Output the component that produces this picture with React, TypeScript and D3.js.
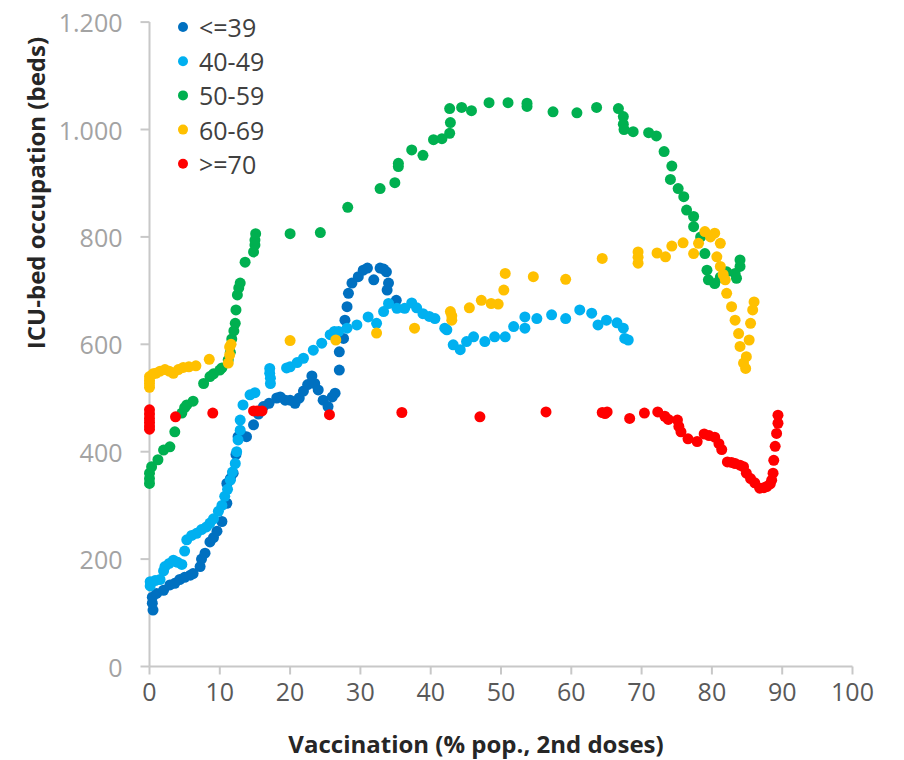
import React from "react";
import * as d3 from "d3";

const seriesNames = ["<=39", "40-49", "50-59", "60-69", ">=70"];
const seriesColors = ["#0070C0", "#00B0F0", "#00B050", "#FFC000", "#FF0000"];

const xTicks = [0, 10, 20, 30, 40, 50, 60, 70, 80, 90, 100];
const yTicks = [0, 200, 400, 600, 800, 1000, 1200];
const yTickLabels = ["0", "200", "400", "600", "800", "1.000", "1.200"];

const age39: [number, number][] = [[0.5,105],[0.4,118],[0.4,129],[1.0,136],[2.0,142],[2.9,152],[3.6,155],[4.3,162],[5.0,166],[5.8,170],[6.2,173],[7.2,186],[7.4,200],[7.9,211],[8.6,232],[9.1,240],[9.6,252],[10.3,270],[11.0,304],[11.0,341],[11.5,350],[11.9,360],[12.3,395],[12.6,428],[13.2,430],[13.8,428],[14.8,450],[15.5,470],[16.2,484],[17.0,490],[18.1,500],[18.6,502],[19.3,496],[20.0,496],[20.7,490],[21.3,500],[21.9,513],[22.5,525],[23.1,541],[23.5,527],[24.0,515],[24.7,496],[25.4,484],[26.0,502],[26.4,509],[27.0,552],[27.0,586],[27.6,611],[27.8,645],[28.1,670],[28.3,695],[28.8,714],[29.7,726],[30.4,738],[31.0,742],[31.9,720],[32.8,742],[33.3,740],[33.7,735],[34.0,714],[33.8,701],[35.1,682]];

const age40: [number, number][] = [[0.1,150],[0.1,158],[0.8,160],[1.5,162],[2.0,178],[2.2,186],[2.8,192],[3.4,198],[4.0,194],[4.6,190],[5.0,215],[5.3,236],[6.0,244],[6.7,248],[7.4,255],[8.1,260],[8.6,267],[9.1,275],[9.8,289],[10.3,300],[10.7,317],[11.1,330],[11.5,347],[11.8,362],[12.2,378],[12.4,400],[12.6,422],[12.9,440],[12.9,459],[13.3,487],[14.3,506],[15.0,510],[17.1,546],[17.1,555],[17.2,527],[17.2,537],[19.5,556],[20.0,558],[21.0,566],[21.9,574],[23.3,589],[24.5,602],[25.7,618],[26.3,624],[26.9,624],[28.1,630],[29.5,636],[31.1,651],[32.3,639],[33.3,661],[34.0,676],[35.2,667],[36.3,667],[37.3,677],[38.0,668],[38.9,657],[39.8,652],[40.6,648],[42.0,630],[42.3,627],[43.2,599],[44.2,590],[45.1,605],[46.1,614],[47.7,605],[49.1,614],[50.6,614],[51.8,633],[53.4,651],[53.4,630],[55.1,648],[57.2,655],[59.2,648],[61.2,664],[62.9,658],[63.8,636],[65.0,645],[66.5,640],[67.4,630],[67.6,611],[68.1,608]];

const age50: [number, number][] = [[0,341],[0,350],[0,360],[0.3,372],[1.2,385],[2.0,403],[2.9,409],[3.6,437],[4.6,472],[5.0,482],[5.3,487],[6.2,494],[7.7,527],[8.6,540],[9.1,545],[10.0,552],[10.3,556],[11.2,571],[11.5,585],[11.7,610],[12.0,625],[12.2,639],[12.3,664],[12.5,692],[12.7,705],[12.9,714],[13.6,753],[14.8,772],[15.0,785],[15.0,794],[15.1,806],[20.0,806],[24.3,808],[28.2,855],[32.8,890],[34.9,901],[35.4,931],[35.4,937],[37.3,962],[38.9,952],[40.4,981],[41.6,983],[42.7,993],[42.8,1013],[42.7,1039],[44.4,1041],[45.8,1035],[48.3,1050],[51.0,1050],[53.7,1043],[53.7,1049],[57.4,1033],[60.8,1031],[63.6,1041],[66.7,1039],[67.4,1024],[67.4,1010],[67.5,1000],[68.8,996],[71.0,994],[72.1,988],[73.2,959],[74.3,932],[74.1,907],[75.2,890],[76.0,875],[76.4,850],[77.4,838],[77.4,819],[78.4,800],[79.0,769],[79.3,738],[79.5,720],[80.4,713],[81.2,725],[82.1,735],[83.3,732],[83.5,723],[84.0,745],[84.0,757]];

const age60: [number, number][] = [[0,520],[0,527],[0,533],[0,540],[0.5,545],[0.9,546],[1.5,550],[2.2,553],[2.8,550],[3.4,546],[4.1,553],[4.8,557],[5.6,558],[6.6,560],[8.5,572],[11.2,565],[11.4,580],[11.4,595],[11.6,600],[20.0,607],[26.5,608],[32.3,621],[37.7,630],[42.8,661],[43.0,653],[43.0,645],[45.5,668],[47.2,682],[48.6,676],[49.6,675],[50.4,701],[50.6,732],[54.6,726],[59.2,721],[64.4,760],[69.5,772],[69.5,762],[69.5,751],[72.2,770],[73.4,763],[74.3,783],[75.9,789],[77.4,769],[78.1,788],[79.0,810],[79.8,800],[80.4,807],[81.2,788],[80.7,763],[81.2,745],[81.6,730],[81.9,720],[82.1,695],[82.8,670],[83.3,645],[83.8,620],[84.0,596],[84.5,565],[84.8,555],[84.9,577],[85.3,608],[85.5,639],[85.8,664],[86.0,679]];

const age70: [number, number][] = [[0,478],[0,470],[0,462],[0,455],[0,448],[0,442],[3.7,465],[9.0,472],[14.8,476],[15.4,476],[16.0,476],[25.6,469],[35.9,473],[47.0,465],[56.4,474],[64.4,473],[64.8,471],[65.1,474],[68.3,462],[70.4,472],[72.3,474],[73.3,466],[73.8,460],[75.1,459],[75.3,447],[75.6,437],[76.6,424],[77.9,419],[78.9,433],[79.6,430],[80.4,427],[81.0,415],[81.4,404],[82.2,381],[82.8,380],[83.3,378],[84.0,375],[84.5,372],[84.9,360],[85.5,350],[86.1,342],[86.8,332],[87.4,333],[87.8,335],[88.3,340],[88.5,347],[88.7,360],[88.8,384],[89.0,410],[89.2,434],[89.4,453],[89.4,468]];

const allSeries = [age39, age40, age50, age60, age70];

const FONT = "'Open Sans', 'Noto Sans', sans-serif";

export default function App() {
  const width = 904;
  const height = 760;
  const x = d3.scaleLinear().domain([0, 100]).range([149.5, 852.5]);
  const y = d3.scaleLinear().domain([0, 1200]).range([666.5, 22.1]);
  const axisColor = "#c8c8c8";

  return (
    <div style={{ position: "absolute", left: 0, top: 0 }}>
      <svg width={width} height={height} style={{ display: "block", background: "#fff" }}>
        {/* y axis */}
        <line x1={x(0)} x2={x(0)} y1={y(0)} y2={y(1200)} stroke={axisColor} strokeWidth={2} />
        {yTicks.map((t, i) => (
          <g key={"y" + t}>
            <line x1={x(0) - 9} x2={x(0)} y1={y(t)} y2={y(t)} stroke={axisColor} strokeWidth={2} />
            <text x={x(0) - 27} y={y(t)} textAnchor="end" dominantBaseline="central"
              fontFamily={FONT} fontSize={25} fill="#a3a3a3">{yTickLabels[i]}</text>
          </g>
        ))}
        {/* x axis */}
        <line x1={x(0)} x2={x(100)} y1={y(0)} y2={y(0)} stroke={axisColor} strokeWidth={2} />
        {xTicks.map((t) => (
          <g key={"x" + t}>
            <line x1={x(t)} x2={x(t)} y1={y(0)} y2={y(0) + 8} stroke={axisColor} strokeWidth={2} />
            <text x={x(t)} y={y(0) + 24} textAnchor="middle" dominantBaseline="central"
              fontFamily={FONT} fontSize={25} fill="#595959">{t}</text>
          </g>
        ))}
        {/* axis titles */}
        <text x={476} y={743} textAnchor="middle" dominantBaseline="central"
          fontFamily={FONT} fontSize={24} fontWeight="bold" fill="#262626">
          Vaccination (% pop., 2nd doses)
        </text>
        <text transform={`translate(35, 193) rotate(-90)`} textAnchor="middle" dominantBaseline="central"
          fontFamily={FONT} fontSize={24} fontWeight="bold" fill="#262626">
          ICU-bed occupation (beds)
        </text>
        {/* points */}
        {allSeries.map((s, si) => (
          <g key={"s" + si}>
            {s.map((d, i) => (
              <circle key={i} cx={x(d[0])} cy={y(d[1])} r={5.5} fill={seriesColors[si]} />
            ))}
          </g>
        ))}
        {/* legend */}
        {seriesNames.map((n, i) => (
          <g key={"l" + i}>
            <circle cx={183} cy={27 + i * 34.2} r={5} fill={seriesColors[i]} />
            <text x={199} y={27 + i * 34.2} dominantBaseline="central" fontFamily={FONT}
              fontSize={25} fill="#404040">{n}</text>
          </g>
        ))}
      </svg>
    </div>
  );
}
